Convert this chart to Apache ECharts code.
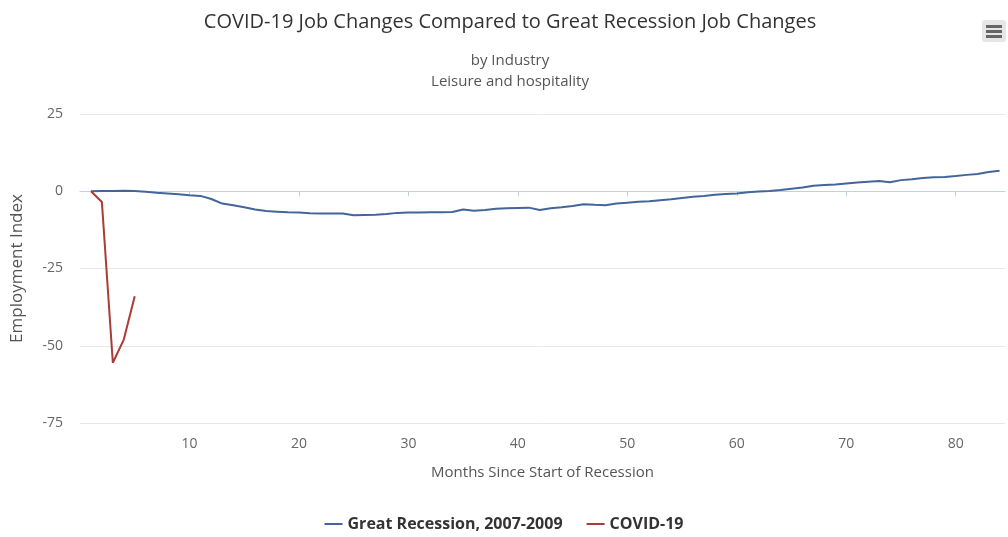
<!DOCTYPE html>
<html>
<head>
<meta charset="utf-8">
<style>html,body{margin:0;padding:0;background:#fff}#c{width:1008px;height:537px}</style>
<script src="https://cdn.jsdelivr.net/npm/echarts@6/dist/echarts.min.js"></script>
</head>
<body>
<div id="c"></div>
<script>
const months = Array.from({length: 84}, (_, i) => i + 1);
const greatRecession = [
  0, 0.1, 0.1, 0.2, 0.1, -0.2, -0.5, -0.7, -1.0, -1.3,
  -1.5, -2.5, -4.0, -4.5, -5.2, -5.9, -6.4, -6.6, -6.8, -6.9,
  -7.1, -7.2, -7.2, -7.2, -7.8, -7.7, -7.6, -7.4, -7.0, -6.9,
  -6.9, -6.8, -6.8, -6.7, -5.9, -6.3, -6.1, -5.7, -5.5, -5.4,
  -5.3, -6.1, -5.5, -5.2, -4.8, -4.2, -4.4, -4.5, -4.0, -3.7,
  -3.4, -3.2, -2.9, -2.6, -2.2, -1.8, -1.5, -1.1, -0.9, -0.7,
  -0.3, -0.1, 0.1, 0.4, 0.8, 1.2, 1.8, 2.0, 2.2, 2.5,
  2.8, 3.1, 3.3, 2.9, 3.6, 3.9, 4.3, 4.5, 4.6, 4.9,
  5.3, 5.6, 6.2, 6.6
];
const covid = [0, -3.5, -55.5, -48, -34];
const xTicks = [10, 20, 30, 40, 50, 60, 70, 80];

const FONT = '"Open Sans", "Liberation Sans", sans-serif';
const chart = echarts.init(document.getElementById('c'));
chart.setOption({
  animation: false,
  textStyle: {fontFamily: FONT},
  title: [{
    text: 'COVID-19 Job Changes Compared to Great Recession Job Changes',
    left: 505, top: 7, textAlign: 'center',
    textStyle: {fontFamily: FONT, fontSize: 20, fontWeight: 'normal', color: '#333'}
  }, {
    text: 'by Industry\nLeisure and hospitality',
    left: 505, top: 45, textAlign: 'center',
    textStyle: {fontFamily: FONT, fontSize: 15, fontWeight: 'normal', color: '#555', lineHeight: 21}
  }],
  legend: {
    bottom: 0, left: 'center',
    itemWidth: 18, itemHeight: 2, icon: 'rect', itemGap: 24,
    textStyle: {fontFamily: FONT, fontSize: 16, fontWeight: 'bold', color: '#333'},
    data: ['Great Recession, 2007-2009', 'COVID-19']
  },
  grid: {left: 80, right: 3, top: 114, bottom: 114, containLabel: false},
  xAxis: {
    type: 'value', min: 0, max: 84.5,
    name: 'Months Since Start of Recession', nameLocation: 'middle', nameGap: 42,
    nameTextStyle: {fontFamily: FONT, fontSize: 15, color: '#555'},
    axisLine: {lineStyle: {color: '#C0D0E0'}},
    axisTick: {show: true, length: 5, lineStyle: {color: '#C0D0E0'}, customValues: xTicks},
    axisLabel: {color: '#666', fontSize: 14, margin: 14, customValues: xTicks},
    splitLine: {show: false}
  },
  yAxis: {
    type: 'value', min: -75, max: 25, interval: 25,
    name: 'Employment Index', nameLocation: 'middle', nameGap: 54,
    nameTextStyle: {fontFamily: FONT, fontSize: 17, color: '#555'},
    axisLine: {show: false}, axisTick: {show: false},
    axisLabel: {color: '#666', fontSize: 14, margin: 17},
    splitLine: {lineStyle: {color: '#e8e8e8'}}
  },
  series: [
    {name: 'Great Recession, 2007-2009', type: 'line', showSymbol: false,
     data: months.map((m, i) => [m, greatRecession[i]]),
     lineStyle: {width: 2, color: '#42659a'}, itemStyle: {color: '#42659a'}},
    {name: 'COVID-19', type: 'line', showSymbol: false,
     data: covid.map((v, i) => [months[i], v]),
     lineStyle: {width: 2, color: '#AA3B36'}, itemStyle: {color: '#AA3B36'}}
  ],
  graphic: [
    {type: 'rect', shape: {x: 982, y: 20, width: 24, height: 22, r: 3}, style: {fill: '#e6e6e6'}},
    {type: 'rect', shape: {x: 986, y: 25, width: 16, height: 3}, style: {fill: '#666'}},
    {type: 'rect', shape: {x: 986, y: 30, width: 16, height: 3}, style: {fill: '#666'}},
    {type: 'rect', shape: {x: 986, y: 35, width: 16, height: 3}, style: {fill: '#666'}}
  ]
});
</script>
</body>
</html>
